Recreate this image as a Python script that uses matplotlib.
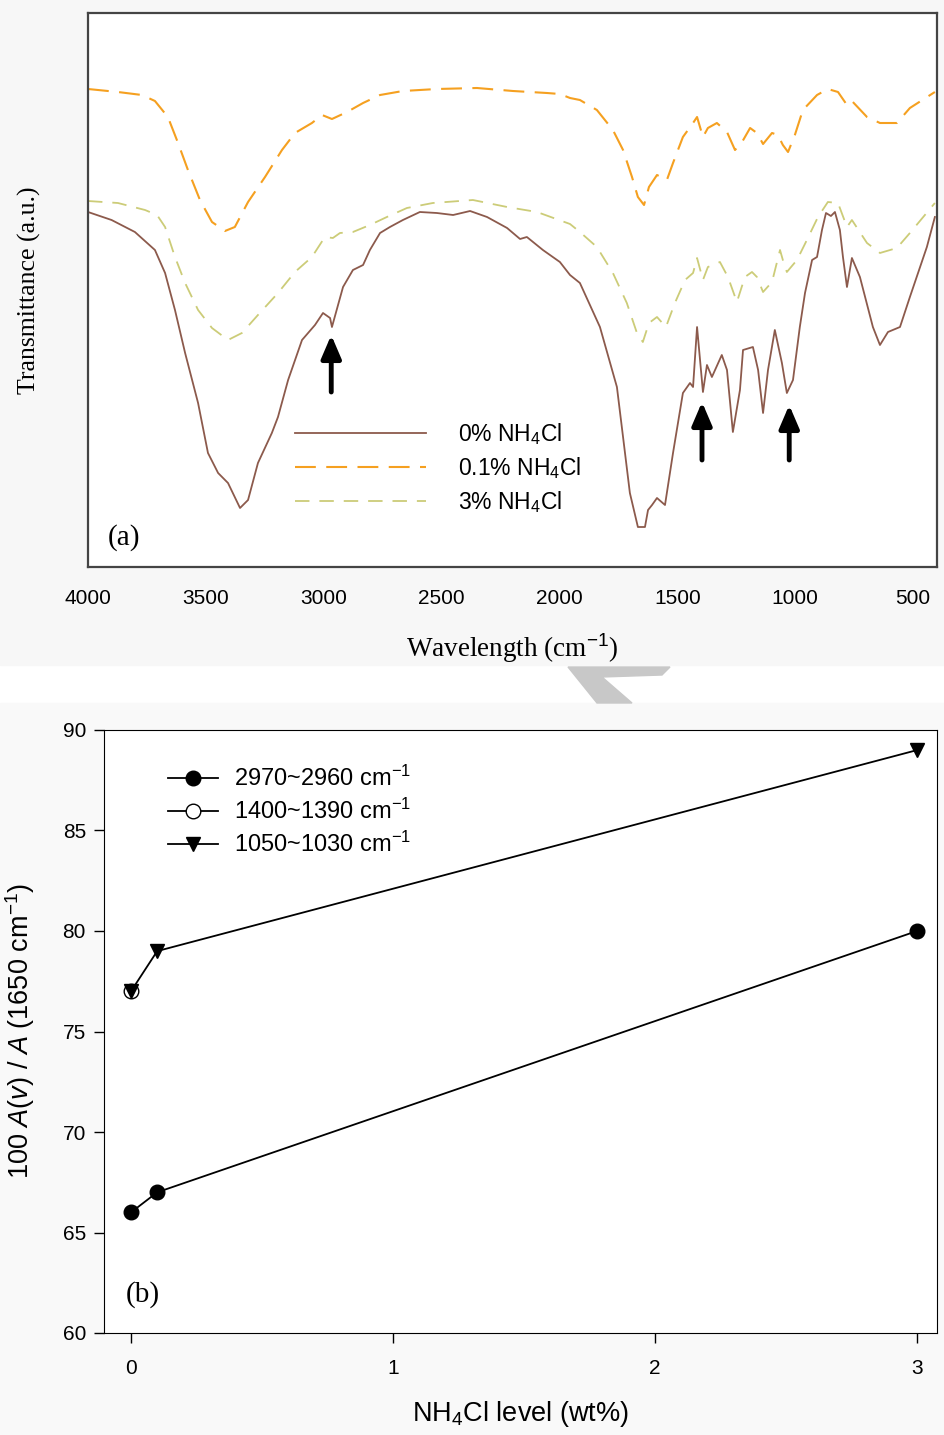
import matplotlib
matplotlib.use("Agg")
import matplotlib.pyplot as plt
from matplotlib.patches import Polygon, Rectangle

plt.rcParams['font.family'] = ['Liberation Sans', 'DejaVu Sans']
plt.rcParams['mathtext.fontset'] = 'custom'
plt.rcParams['mathtext.rm'] = 'Liberation Sans'
plt.rcParams['mathtext.it'] = 'Liberation Sans:italic'

# ---- panel (a): FTIR spectra (transmittance, arbitrary units) ----
wn_0 = [4000, 3900, 3801, 3716, 3673, 3631, 3588, 3533, 3491, 3448, 3406, 3355, 3321,
        3279, 3220, 3194, 3151, 3092, 3037, 3003, 2973, 2965, 2918, 2876, 2833, 2804,
        2761, 2719, 2664, 2592, 2520, 2451, 2379, 2307, 2222, 2167, 2138, 2070, 1998,
        1955, 1913, 1828, 1756, 1730, 1701, 1667, 1637, 1624, 1607, 1586, 1552, 1518,
        1476, 1446, 1433, 1416, 1391, 1374, 1353, 1311, 1289, 1264, 1234, 1221, 1179,
        1157, 1136, 1115, 1086, 1056, 1035, 1009, 980, 958, 928, 907, 886, 869, 848,
        831, 810, 797, 780, 759, 725, 670, 640, 606, 555, 513, 441, 407]
t_0 = [35.5, 34.7, 33.5, 31.7, 29.4, 25.7, 21.4, 16.4, 11.4, 9.4, 8.4, 5.9, 6.7,
       10.4, 13.4, 15.0, 18.7, 22.7, 24.2, 25.4, 24.9, 24.0, 28.0, 29.7, 30.2, 31.7,
       33.4, 34.0, 34.7, 35.5, 35.4, 35.2, 35.6, 35.0, 33.9, 32.8, 33.0, 31.7, 30.5,
       29.2, 28.4, 24.0, 18.0, 13.0, 7.4, 4.0, 4.0, 5.7, 6.2, 6.9, 6.2, 11.4,
       17.4, 18.4, 18.0, 24.0, 17.5, 20.2, 19.0, 21.2, 19.7, 13.5, 17.7, 21.7, 22.0,
       19.7, 15.4, 19.7, 23.7, 20.4, 17.4, 18.7, 24.0, 27.4, 30.7, 31.0, 33.7, 35.4, 35.1,
       35.5, 33.7, 31.0, 28.0, 30.9, 29.0, 24.0, 22.2, 23.5, 24.0, 27.0, 32.0, 35.0]

wn_01 = [4000, 3873, 3771, 3716, 3661, 3618, 3576, 3525, 3474, 3419, 3377, 3321, 3249,
         3177, 3122, 3050, 3007, 2965, 2901, 2833, 2761, 2664, 2520, 2350, 2197, 2053,
         1998, 1955, 1913, 1841, 1773, 1730, 1692, 1667, 1641, 1620, 1586, 1544, 1518,
         1476, 1433, 1416, 1391, 1370, 1332, 1289, 1255, 1225, 1191, 1162, 1136, 1098,
         1073, 1052, 1030, 1001, 967, 907, 861, 818, 780, 759, 695, 640, 568, 513, 407]
t_01 = [47.8, 47.5, 47.2, 46.6, 45.0, 42.4, 39.7, 36.7, 34.5, 33.6, 34.0, 36.5, 39.0,
        41.7, 43.4, 44.4, 45.2, 44.8, 45.5, 46.4, 47.2, 47.6, 47.8, 47.9, 47.6, 47.4,
        47.3, 46.9, 46.7, 45.7, 43.7, 41.7, 39.0, 37.0, 36.2, 38.0, 39.2, 38.7, 40.4,
        43.0, 44.4, 45.0, 43.0, 43.9, 44.4, 43.5, 41.7, 42.5, 43.9, 43.4, 42.3, 43.4,
        43.2, 42.2, 41.5, 43.2, 45.7, 47.2, 47.8, 47.5, 46.2, 46.6, 45.0, 44.4, 44.4, 45.9, 47.5]

wn_3 = [4000, 3873, 3758, 3707, 3673, 3631, 3588, 3533, 3474, 3406, 3347, 3279, 3194,
        3122, 3050, 2995, 2961, 2931, 2876, 2804, 2732, 2647, 2537, 2367, 2222, 2095,
        1955, 1913, 1841, 1773, 1714, 1671, 1646, 1620, 1586, 1548, 1510, 1467, 1433,
        1416, 1391, 1370, 1319, 1285, 1247, 1213, 1183, 1162, 1136, 1098, 1064, 1052,
        1035, 992, 950, 903, 861, 818, 780, 759, 695, 640, 568, 513, 407]
t_3 = [36.6, 36.4, 35.7, 35.2, 34.0, 31.0, 28.4, 25.7, 23.9, 22.7, 23.4, 25.2, 27.4,
       29.5, 31.0, 33.0, 32.9, 33.4, 33.5, 34.2, 35.0, 35.9, 36.4, 36.7, 36.0, 35.5,
       34.3, 33.5, 32.0, 29.4, 26.4, 23.4, 22.5, 24.4, 25.0, 24.0, 26.4, 28.7, 29.4,
       30.9, 28.7, 30.0, 30.5, 29.0, 26.5, 29.0, 29.5, 29.0, 27.5, 28.5, 31.7, 30.7,
       29.5, 30.7, 32.7, 35.0, 36.5, 36.4, 34.0, 34.7, 32.4, 31.4, 31.9, 33.4, 36.4]

spec_labels = ['0% NH$_4$Cl', '0.1% NH$_4$Cl', '3% NH$_4$Cl']
# marked bands: wavenumber, arrow tail, arrow tip
arrow_wn = [2968, 1395, 1025]
arrow_from = [17.5, 10.7, 10.7]
arrow_to = [23.2, 16.5, 16.2]

# ---- panel (b): band ratio vs NH4Cl level ----
level = [0, 0.1, 3]
r_2970 = [66, 67, 80]
level_1400 = [0]
r_1400 = [77]
r_1050 = [77, 79, 89]
ratio_labels = ['2970~2960 cm$^{-1}$', '1400~1390 cm$^{-1}$', '1050~1030 cm$^{-1}$']

W, H = 945, 1435
fig = plt.figure(figsize=(W / 100, H / 100), dpi=100)

# faint scanned-page background bands and grey mark
fig.patches.append(Rectangle((0, 1 - 665 / H), 1, 665 / H, transform=fig.transFigure,
                             color='#f7f7f7', zorder=-10))
fig.patches.append(Rectangle((0, 0), 1, 1 - 703 / H, transform=fig.transFigure,
                             color='#f9f9f9', zorder=-10))
mark = [(568, 667), (670, 667), (662, 675), (602, 677), (632, 703), (597, 703)]
fig.patches.append(Polygon([(x / W, 1 - y / H) for x, y in mark], closed=True,
                           transform=fig.transFigure, color='#c8c8c8', zorder=-5))

# ------------------- (a) -------------------
ax1 = fig.add_axes([88 / W, 1 - 567 / H, 849 / W, 554 / H])
ax1.plot(wn_0, t_0, color='#8c5a4c', lw=1.3, label=spec_labels[0])
ax1.plot(wn_01, t_01, color='#f5a020', lw=1.5, dashes=(10, 5), label=spec_labels[1])
ax1.plot(wn_3, t_3, color='#cccc78', lw=1.3, dashes=(8, 5.5), label=spec_labels[2])
for w, a, b in zip(arrow_wn, arrow_from, arrow_to):
    ax1.annotate('', xy=(w, b), xytext=(w, a),
                 arrowprops=dict(arrowstyle='-|>,head_length=0.7,head_width=0.3',
                                 lw=3.5, color='k', mutation_scale=20,
                                 shrinkA=0, shrinkB=0))
ax1.set_xlim(4000, 398)
ax1.set_ylim(0, 55.4)
ax1.set_xticks([4000, 3500, 3000, 2500, 2000, 1500, 1000, 500])
ax1.set_yticks([])
ax1.tick_params(axis='x', length=0, pad=16, labelsize=15)
for s in ax1.spines.values():
    s.set_color('#444444')
    s.set_linewidth(1.6)
ax1.set_ylabel('Transmittance (a.u.)', family='Liberation Serif', fontsize=18.5)
ax1.yaxis.set_label_coords(-0.055, 0.5)
ax1.set_xlabel('Wavelength (cm$^{-1}$)', family='Liberation Serif', fontsize=19.5)
ax1.xaxis.set_label_coords(0.5, -0.115)
ax1.text(0.023, 0.054, '(a)', transform=ax1.transAxes, family='Liberation Serif',
         fontsize=21, va='center')
ax1.legend(loc='upper left', bbox_to_anchor=(0.244, 0.264), frameon=False,
           borderpad=0, borderaxespad=0, handlelength=5.7, handletextpad=1.4,
           labelspacing=0.37, fontsize=16.5)

# ------------------- (b) -------------------
ax2 = fig.add_axes([104 / W, 1 - 1333 / H, 833 / W, 603 / H])
ax2.plot(level, r_2970, color='k', lw=1.3, marker='o', ms=10.5,
         mfc='k', mec='k', label=ratio_labels[0])
ax2.plot(level_1400, r_1400, color='k', lw=1.3, marker='o', ms=10.5,
         mfc='white', mec='k', label=ratio_labels[1])
ax2.plot(level, r_1050, color='k', lw=1.3, marker='v', ms=10.5,
         mfc='k', mec='k', label=ratio_labels[2])
ax2.set_xlim(-0.103, 3.0762)
ax2.set_ylim(60, 90)
ax2.set_xticks([0, 1, 2, 3])
ax2.set_yticks(range(60, 91, 5))
ax2.tick_params(direction='out', length=7, width=1, labelsize=15)
ax2.tick_params(axis='x', pad=12)
ax2.tick_params(axis='y', pad=6)
ax2.set_ylabel('100 $A$($v$) / $A$ (1650 cm$^{-1}$)', fontsize=19.5)
ax2.yaxis.set_label_coords(-0.08, 0.5)
ax2.set_xlabel('NH$_4$Cl level (wt%)', fontsize=19.5)
ax2.xaxis.set_label_coords(0.5, -0.11)
ax2.text(0.026, 0.063, '(b)', transform=ax2.transAxes, family='Liberation Serif',
         fontsize=21, va='center')
ax2.legend(loc='upper left', bbox_to_anchor=(0.077, 0.94), frameon=False,
           borderpad=0, borderaxespad=0, handlelength=2.1, handletextpad=0.7,
           labelspacing=0.33, fontsize=17)

fig.savefig('out.png', dpi=100)
